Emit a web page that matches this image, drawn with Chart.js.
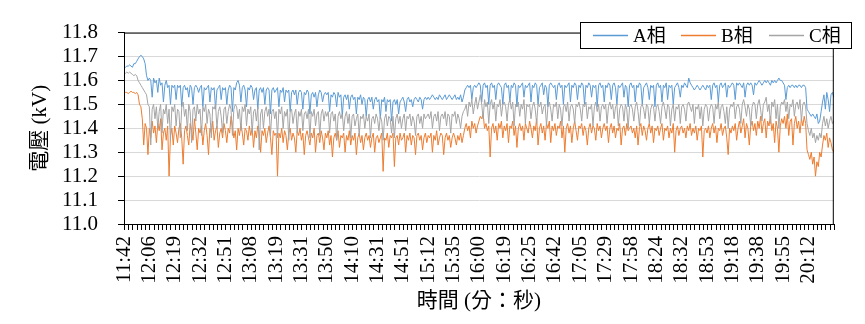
<!DOCTYPE html>
<html>
<head>
<meta charset="utf-8">
<script src="https://cdn.jsdelivr.net/npm/chart.js@4/dist/chart.umd.min.js"></script>
<style>
  html, body { margin: 0; padding: 0; background: #fff; }
  #wrap { width: 865px; height: 324px; }
</style>
</head>
<body>
<div id="wrap"><canvas id="chart" width="865" height="324"></canvas></div>
<script>
// tick labels shown every 18 samples
const tickLabels = ['11:42', '12:06', '12:19', '12:32', '12:51', '13:08', '13:19', '13:31', '13:50', '14:10',
  '14:31', '14:51', '15:12', '15:35', '16:00', '16:19', '16:25', '16:42', '17:05', '17:29',
  '17:58', '18:24', '18:32', '18:53', '19:18', '19:38', '19:55', '20:12'];
const samplesPerLabel = 18;
const samplesPerTick = 3;

// phase voltages (kV), one row per label interval
const phaseA = [
  11.66, 11.655, 11.66, 11.66, 11.665, 11.66, 11.655, 11.67, 11.67, 11.68, 11.69, 11.70, 11.705, 11.70, 11.69, 11.67, 11.62, 11.60,
  11.61, 11.60, 11.53, 11.61, 11.59, 11.60, 11.55, 11.61, 11.58, 11.59, 11.51, 11.58, 11.60, 11.57, 11.58, 11.50, 11.58, 11.57,
  11.58, 11.52, 11.58, 11.57, 11.58, 11.49, 11.57, 11.58, 11.56, 11.57, 11.53, 11.58, 11.57, 11.50, 11.57, 11.58, 11.57, 11.55,
  11.57, 11.58, 11.49, 11.57, 11.56, 11.57, 11.58, 11.51, 11.57, 11.56, 11.57, 11.48, 11.56, 11.57, 11.58, 11.52, 11.57, 11.56,
  11.57, 11.50, 11.56, 11.58, 11.57, 11.47, 11.57, 11.56, 11.59, 11.60, 11.58, 11.51, 11.57, 11.58, 11.56, 11.49, 11.57, 11.56,
  11.58, 11.57, 11.52, 11.56, 11.57, 11.48, 11.56, 11.57, 11.55, 11.57, 11.50, 11.56, 11.57, 11.56, 11.46, 11.56, 11.57, 11.55,
  11.56, 11.57, 11.49, 11.56, 11.55, 11.57, 11.51, 11.56, 11.55, 11.56, 11.47, 11.55, 11.56, 11.54, 11.56, 11.50, 11.55, 11.56,
  11.55, 11.48, 11.55, 11.54, 11.56, 11.55, 11.46, 11.54, 11.55, 11.53, 11.55, 11.49, 11.54, 11.56, 11.55, 11.51, 11.54, 11.55,
  11.54, 11.55, 11.47, 11.54, 11.53, 11.55, 11.54, 11.49, 11.55, 11.53, 11.54, 11.45, 11.53, 11.54, 11.52, 11.54, 11.48, 11.53,
  11.54, 11.52, 11.53, 11.46, 11.53, 11.52, 11.54, 11.50, 11.53, 11.52, 11.45, 11.52, 11.53, 11.51, 11.53, 11.48, 11.52, 11.53,
  11.51, 11.52, 11.44, 11.52, 11.51, 11.53, 11.47, 11.52, 11.51, 11.52, 11.43, 11.51, 11.52, 11.50, 11.52, 11.46, 11.51, 11.52,
  11.53, 11.51, 11.47, 11.52, 11.53, 11.51, 11.52, 11.49, 11.52, 11.53, 11.52, 11.51, 11.53, 11.52, 11.48, 11.52, 11.53, 11.52,
  11.53, 11.52, 11.53, 11.54, 11.53, 11.52, 11.53, 11.52, 11.54, 11.53, 11.52, 11.53, 11.54, 11.52, 11.53, 11.54, 11.53, 11.52,
  11.53, 11.54, 11.52, 11.53, 11.52, 11.54, 11.51, 11.53, 11.56, 11.57, 11.58, 11.57, 11.58, 11.52, 11.57, 11.58, 11.57, 11.58,
  11.59, 11.58, 11.51, 11.58, 11.59, 11.57, 11.58, 11.50, 11.58, 11.59, 11.57, 11.58, 11.52, 11.58, 11.59, 11.58, 11.57, 11.50,
  11.58, 11.59, 11.57, 11.58, 11.51, 11.58, 11.57, 11.59, 11.58, 11.49, 11.58, 11.57, 11.58, 11.59, 11.53, 11.58, 11.57, 11.58,
  11.59, 11.51, 11.58, 11.57, 11.59, 11.58, 11.50, 11.57, 11.58, 11.59, 11.54, 11.58, 11.57, 11.49, 11.58, 11.59, 11.58, 11.57,
  11.58, 11.52, 11.58, 11.59, 11.57, 11.58, 11.50, 11.58, 11.57, 11.58, 11.59, 11.51, 11.58, 11.57, 11.59, 11.58, 11.52, 11.58,
  11.57, 11.59, 11.58, 11.50, 11.58, 11.57, 11.59, 11.58, 11.53, 11.58, 11.57, 11.58, 11.49, 11.58, 11.59, 11.57, 11.58, 11.51,
  11.58, 11.57, 11.59, 11.58, 11.52, 11.58, 11.59, 11.57, 11.50, 11.58, 11.57, 11.58, 11.59, 11.53, 11.58, 11.57, 11.49, 11.58,
  11.59, 11.57, 11.58, 11.51, 11.58, 11.57, 11.59, 11.58, 11.50, 11.57, 11.58, 11.59, 11.57, 11.52, 11.58, 11.57, 11.58, 11.49,
  11.58, 11.59, 11.57, 11.58, 11.51, 11.58, 11.57, 11.59, 11.52, 11.58, 11.57, 11.58, 11.50, 11.57, 11.58, 11.59, 11.57, 11.53,
  11.58, 11.57, 11.59, 11.58, 11.57, 11.61, 11.59, 11.58, 11.57, 11.56, 11.57, 11.58, 11.57, 11.56, 11.57, 11.58, 11.57, 11.56,
  11.58, 11.57, 11.58, 11.52, 11.58, 11.59, 11.57, 11.58, 11.51, 11.58, 11.59, 11.57, 11.58, 11.59, 11.53, 11.58, 11.57, 11.58,
  11.59, 11.58, 11.52, 11.59, 11.58, 11.59, 11.58, 11.57, 11.59, 11.53, 11.58, 11.59, 11.58, 11.59, 11.58, 11.54, 11.59, 11.58,
  11.59, 11.60, 11.59, 11.58, 11.59, 11.60, 11.59, 11.60, 11.59, 11.58, 11.60, 11.59, 11.60, 11.59, 11.60, 11.61, 11.60, 11.60,
  11.59, 11.58, 11.52, 11.57, 11.58, 11.57, 11.58, 11.58, 11.57, 11.58, 11.57, 11.58, 11.58, 11.57, 11.58, 11.58, 11.57, 11.48,
  11.47, 11.46, 11.45, 11.46, 11.45, 11.44, 11.46, 11.42, 11.43, 11.47, 11.51, 11.54, 11.48, 11.55, 11.52, 11.47, 11.54, 11.55,
  11.53
];

const phaseB = [
  11.545, 11.55, 11.55, 11.545, 11.55, 11.555, 11.55, 11.55, 11.545, 11.55, 11.54, 11.50, 11.49, 11.44, 11.33, 11.42, 11.40, 11.29,
  11.40, 11.36, 11.43, 11.38, 11.41, 11.34, 11.42, 11.39, 11.44, 11.31, 11.38, 11.40, 11.35, 11.41, 11.20, 11.37, 11.40, 11.33,
  11.41, 11.38, 11.34, 11.40, 11.42, 11.36, 11.25, 11.39, 11.41, 11.37, 11.33, 11.42, 11.39, 11.35, 11.44, 11.38, 11.31, 11.40,
  11.38, 11.41, 11.33, 11.39, 11.42, 11.37, 11.29, 11.40, 11.38, 11.43, 11.35, 11.39, 11.41, 11.32, 11.38, 11.40, 11.36, 11.42,
  11.39, 11.34, 11.40, 11.38, 11.45, 11.41, 11.36, 11.39, 11.31, 11.40, 11.37, 11.42, 11.38, 11.33, 11.40, 11.39, 11.35, 11.41,
  11.37, 11.40, 11.32, 11.39, 11.36, 11.41, 11.38, 11.30, 11.39, 11.37, 11.40, 11.34, 11.38, 11.41, 11.36, 11.29, 11.39, 11.37,
  11.38, 11.20, 11.38, 11.36, 11.40, 11.34, 11.39, 11.37, 11.31, 11.38, 11.40, 11.35, 11.38, 11.36, 11.30, 11.39, 11.37, 11.40,
  11.35, 11.38, 11.29, 11.37, 11.39, 11.36, 11.33, 11.38, 11.36, 11.40, 11.30, 11.37, 11.38, 11.34, 11.39, 11.36, 11.31, 11.38,
  11.36, 11.39, 11.33, 11.37, 11.28, 11.36, 11.38, 11.35, 11.39, 11.32, 11.37, 11.36, 11.38, 11.30, 11.37, 11.35, 11.39, 11.33,
  11.37, 11.35, 11.38, 11.29, 11.36, 11.38, 11.34, 11.37, 11.31, 11.36, 11.38, 11.35, 11.37, 11.32, 11.36, 11.38, 11.30, 11.36,
  11.37, 11.34, 11.36, 11.38, 11.22, 11.36, 11.35, 11.38, 11.32, 11.37, 11.36, 11.38, 11.24, 11.36, 11.37, 11.33, 11.38, 11.35,
  11.36, 11.38, 11.30, 11.37, 11.35, 11.38, 11.33, 11.37, 11.36, 11.29, 11.37, 11.38, 11.35, 11.37, 11.31, 11.36, 11.38, 11.34,
  11.37, 11.36, 11.38, 11.30, 11.37, 11.35, 11.39, 11.33, 11.36, 11.38, 11.37, 11.29, 11.36, 11.38, 11.35, 11.37, 11.32, 11.36,
  11.38, 11.36, 11.33, 11.37, 11.35, 11.38, 11.34, 11.37, 11.40, 11.42, 11.39, 11.41, 11.36, 11.43, 11.40, 11.42, 11.38, 11.41,
  11.43, 11.45, 11.44, 11.46, 11.40, 11.42, 11.39, 11.41, 11.28, 11.40, 11.42, 11.38, 11.41, 11.35, 11.42, 11.40, 11.43, 11.36,
  11.41, 11.39, 11.42, 11.34, 11.41, 11.40, 11.43, 11.37, 11.41, 11.32, 11.40, 11.42, 11.39, 11.41, 11.35, 11.42, 11.40, 11.38,
  11.43, 11.40, 11.36, 11.41, 11.39, 11.44, 11.33, 11.40, 11.42, 11.38, 11.41, 11.35, 11.42, 11.40, 11.43, 11.34, 11.41, 11.39,
  11.42, 11.37, 11.41, 11.40, 11.43, 11.36, 11.41, 11.30, 11.40, 11.42, 11.38, 11.41, 11.34, 11.40, 11.43, 11.39, 11.35, 11.41,
  11.40, 11.42, 11.37, 11.41, 11.39, 11.33, 11.40, 11.42, 11.38, 11.41, 11.40, 11.35, 11.42, 11.39, 11.41, 11.36, 11.40, 11.42,
  11.39, 11.41, 11.34, 11.40, 11.42, 11.38, 11.41, 11.36, 11.40, 11.39, 11.42, 11.33, 11.40, 11.41, 11.37, 11.42, 11.39, 11.40,
  11.41, 11.38, 11.40, 11.36, 11.41, 11.33, 11.40, 11.42, 11.37, 11.41, 11.39, 11.35, 11.40, 11.42, 11.38, 11.41, 11.34, 11.40,
  11.39, 11.41, 11.37, 11.40, 11.42, 11.35, 11.40, 11.39, 11.41, 11.36, 11.40, 11.38, 11.42, 11.30, 11.39, 11.41, 11.37, 11.40,
  11.41, 11.38, 11.40, 11.36, 11.41, 11.39, 11.42, 11.37, 11.40, 11.38, 11.41, 11.35, 11.40, 11.39, 11.41, 11.28, 11.39, 11.40,
  11.38, 11.41, 11.36, 11.40, 11.42, 11.38, 11.41, 11.34, 11.40, 11.39, 11.42, 11.37, 11.40, 11.41, 11.36, 11.29, 11.40, 11.38,
  11.41, 11.39, 11.42, 11.35, 11.40, 11.43, 11.38, 11.41, 11.44, 11.36, 11.42, 11.40, 11.33, 11.41, 11.43, 11.39, 11.42, 11.37,
  11.43, 11.40, 11.45, 11.38, 11.42, 11.44, 11.36, 11.43, 11.41, 11.45, 11.39, 11.42, 11.34, 11.43, 11.40, 11.30, 11.41, 11.44,
  11.42, 11.45, 11.40, 11.46, 11.37, 11.43, 11.44, 11.33, 11.42, 11.45, 11.40, 11.43, 11.38, 11.44, 11.41, 11.45, 11.42, 11.31,
  11.29, 11.27, 11.30, 11.25, 11.28, 11.20, 11.26, 11.24, 11.30, 11.28, 11.33, 11.37, 11.35, 11.38, 11.32, 11.36, 11.34, 11.31,
  11.30
];

const phaseC = [
  11.635, 11.63, 11.635, 11.63, 11.635, 11.63, 11.625, 11.62, 11.625, 11.62, 11.60, 11.59, 11.58, 11.57, 11.56, 11.55, 11.54, 11.50,
  11.49, 11.33, 11.48, 11.50, 11.44, 11.49, 11.40, 11.47, 11.50, 11.38, 11.48, 11.46, 11.50, 11.42, 11.48, 11.35, 11.49, 11.47,
  11.50, 11.41, 11.48, 11.47, 11.36, 11.49, 11.51, 11.45, 11.48, 11.39, 11.50, 11.47, 11.34, 11.48, 11.49, 11.43, 11.50, 11.46,
  11.48, 11.37, 11.49, 11.47, 11.50, 11.42, 11.48, 11.46, 11.36, 11.49, 11.48, 11.50, 11.40, 11.47, 11.49, 11.45, 11.38, 11.48,
  11.49, 11.42, 11.47, 11.50, 11.48, 11.37, 11.48, 11.50, 11.49, 11.44, 11.48, 11.39, 11.49, 11.47, 11.50, 11.41, 11.48, 11.46,
  11.49, 11.38, 11.47, 11.48, 11.43, 11.49, 11.31, 11.46, 11.48, 11.40, 11.47, 11.49, 11.45, 11.48, 11.37, 11.47, 11.48, 11.44,
  11.47, 11.36, 11.48, 11.46, 11.49, 11.40, 11.47, 11.45, 11.48, 11.35, 11.47, 11.48, 11.42, 11.46, 11.48, 11.38, 11.47, 11.45,
  11.48, 11.39, 11.46, 11.47, 11.44, 11.48, 11.36, 11.47, 11.45, 11.48, 11.41, 11.46, 11.47, 11.37, 11.46, 11.48, 11.43, 11.47,
  11.45, 11.47, 11.38, 11.46, 11.47, 11.43, 11.46, 11.35, 11.45, 11.47, 11.44, 11.46, 11.39, 11.45, 11.47, 11.42, 11.46, 11.36,
  11.45, 11.46, 11.41, 11.44, 11.46, 11.37, 11.45, 11.44, 11.46, 11.40, 11.45, 11.43, 11.46, 11.36, 11.44, 11.45, 11.42, 11.46,
  11.44, 11.39, 11.45, 11.43, 11.35, 11.44, 11.46, 11.41, 11.45, 11.44, 11.38, 11.45, 11.36, 11.44, 11.46, 11.42, 11.45, 11.40,
  11.44, 11.46, 11.39, 11.45, 11.44, 11.46, 11.41, 11.45, 11.43, 11.37, 11.45, 11.46, 11.42, 11.45, 11.40, 11.46, 11.44, 11.45,
  11.46, 11.44, 11.47, 11.40, 11.45, 11.46, 11.43, 11.47, 11.39, 11.45, 11.46, 11.44, 11.47, 11.41, 11.46, 11.45, 11.38, 11.46,
  11.45, 11.47, 11.42, 11.46, 11.44, 11.40, 11.45, 11.47, 11.48, 11.50, 11.45, 11.51, 11.49, 11.52, 11.46, 11.50, 11.53, 11.48,
  11.51, 11.54, 11.50, 11.44, 11.52, 11.49, 11.51, 11.42, 11.50, 11.52, 11.48, 11.51, 11.43, 11.50, 11.49, 11.52, 11.45, 11.50,
  11.51, 11.49, 11.43, 11.50, 11.52, 11.48, 11.51, 11.41, 11.50, 11.49, 11.51, 11.45, 11.50, 11.48, 11.52, 11.42, 11.50, 11.49,
  11.50, 11.44, 11.49, 11.51, 11.48, 11.42, 11.50, 11.49, 11.51, 11.46, 11.49, 11.50, 11.41, 11.49, 11.51, 11.48, 11.43, 11.50,
  11.49, 11.51, 11.44, 11.50, 11.48, 11.41, 11.49, 11.50, 11.47, 11.51, 11.43, 11.49, 11.50, 11.48, 11.42, 11.50, 11.49, 11.51,
  11.48, 11.43, 11.50, 11.49, 11.51, 11.44, 11.49, 11.48, 11.50, 11.41, 11.49, 11.51, 11.47, 11.50, 11.43, 11.49, 11.50, 11.48,
  11.50, 11.42, 11.49, 11.51, 11.48, 11.50, 11.44, 11.49, 11.50, 11.41, 11.48, 11.50, 11.49, 11.43, 11.50, 11.48, 11.40, 11.49,
  11.50, 11.48, 11.43, 11.49, 11.51, 11.47, 11.41, 11.49, 11.50, 11.48, 11.44, 11.50, 11.49, 11.42, 11.48, 11.50, 11.49, 11.43,
  11.49, 11.50, 11.47, 11.42, 11.49, 11.51, 11.48, 11.44, 11.50, 11.49, 11.41, 11.48, 11.50, 11.43, 11.49, 11.48, 11.50, 11.42,
  11.49, 11.50, 11.48, 11.43, 11.50, 11.51, 11.49, 11.47, 11.50, 11.42, 11.49, 11.48, 11.50, 11.44, 11.49, 11.41, 11.48, 11.50,
  11.49, 11.43, 11.48, 11.50, 11.49, 11.42, 11.50, 11.48, 11.51, 11.44, 11.49, 11.50, 11.47, 11.42, 11.49, 11.40, 11.48, 11.50,
  11.49, 11.51, 11.44, 11.49, 11.50, 11.48, 11.42, 11.50, 11.52, 11.49, 11.45, 11.50, 11.48, 11.41, 11.49, 11.51, 11.50, 11.44,
  11.50, 11.52, 11.48, 11.43, 11.50, 11.51, 11.53, 11.47, 11.50, 11.42, 11.51, 11.49, 11.52, 11.44, 11.50, 11.40, 11.49, 11.51,
  11.50, 11.52, 11.47, 11.51, 11.44, 11.50, 11.49, 11.52, 11.45, 11.50, 11.51, 11.48, 11.52, 11.43, 11.50, 11.51, 11.49, 11.42,
  11.39, 11.37, 11.40, 11.36, 11.38, 11.34, 11.37, 11.35, 11.38, 11.36, 11.42, 11.45, 11.41, 11.44, 11.40, 11.43, 11.45, 11.42,
  11.43
];

const seriesNames = ['A相', 'B相', 'C相'];
const seriesColors = ['#5b9bd5', '#ed7d31', '#a5a5a5'];

const serifFont = "'Liberation Serif', 'Times New Roman', 'Noto Sans CJK TC', serif";

// sample index used as category
const sampleIndex = phaseA.map((_, i) => i);

// frame around the plot area plus the small x tick marks
const plotFramePlugin = {
  id: 'plotFrame',
  afterDraw: (chart) => {
    const {ctx, chartArea} = chart;
    const xScale = chart.scales.x;
    ctx.save();
    ctx.strokeStyle = '#000';
    ctx.lineWidth = 1;
    ctx.strokeRect(chartArea.left + 0.5, chartArea.top + 0.5,
      chartArea.right - chartArea.left - 1, chartArea.bottom - chartArea.top);
    ctx.beginPath();
    for (let i = 0; i < sampleIndex.length; i += samplesPerTick) {
      const x = Math.round(xScale.getPixelForValue(i)) + 0.5;
      ctx.moveTo(x, chartArea.bottom);
      ctx.lineTo(x, chartArea.bottom + 6);
    }
    ctx.stroke();
    ctx.restore();
  }
};

// boxed legend in the top right corner of the plot
const boxLegendPlugin = {
  id: 'boxLegend',
  afterDraw: (chart) => {
    const ctx = chart.ctx;
    const box = {x: 580.5, y: 22.5, w: 271, h: 26};
    const lineStarts = [593, 681, 769];
    ctx.save();
    ctx.fillStyle = '#fff';
    ctx.fillRect(box.x, box.y, box.w, box.h);
    ctx.strokeStyle = '#000';
    ctx.lineWidth = 1;
    ctx.strokeRect(box.x, box.y, box.w, box.h);
    ctx.font = '19px ' + serifFont;
    ctx.textBaseline = 'middle';
    seriesNames.forEach((name, i) => {
      const x0 = lineStarts[i];
      ctx.strokeStyle = seriesColors[i];
      ctx.lineWidth = 1.5;
      ctx.beginPath();
      ctx.moveTo(x0, 35.5);
      ctx.lineTo(x0 + 35, 35.5);
      ctx.stroke();
      ctx.fillStyle = '#000';
      ctx.fillText(name, x0 + 40, 37);
    });
    ctx.restore();
  }
};

const seriesData = [phaseA, phaseB, phaseC];

new Chart(document.getElementById('chart'), {
  type: 'line',
  data: {
    labels: sampleIndex,
    datasets: seriesData.map((values, i) => ({
      label: seriesNames[i],
      data: values,
      borderColor: seriesColors[i],
      backgroundColor: seriesColors[i],
      borderWidth: 1,
      pointRadius: 0,
      tension: 0,
      order: 2 - i
    }))
  },
  options: {
    responsive: false,
    animation: false,
    devicePixelRatio: 1,
    layout: {
      padding: {left: 0, right: 11, top: 22, bottom: 0}
    },
    plugins: {
      legend: {display: false},
      tooltip: {enabled: false}
    },
    scales: {
      x: {
        type: 'category',
        offset: false,
        afterFit: (scale) => { scale.height = 100; },
        grid: {
          drawOnChartArea: false,
          drawTicks: true,
          tickLength: 6,
          tickColor: 'rgba(0,0,0,0)'
        },
        border: {display: true, color: '#000', width: 1},
        ticks: {
          autoSkip: false,
          maxRotation: 90,
          minRotation: 90,
          padding: 6,
          color: '#000',
          font: {family: serifFont, size: 21},
          callback: (value, index) => {
            if (index % samplesPerLabel !== 0) return '';
            return tickLabels[index / samplesPerLabel] || '';
          }
        },
        title: {
          display: true,
          text: '時間 (分：秒)',
          color: '#000',
          font: {family: serifFont, size: 21},
          padding: {top: 0, bottom: 10}
        }
      },
      y: {
        min: 11.0,
        max: 11.8,
        afterFit: (scale) => { scale.width = 124; },
        grid: {
          color: '#d9d9d9',
          tickColor: '#000',
          tickLength: 6
        },
        border: {display: true, color: '#000', width: 1},
        ticks: {
          stepSize: 0.1,
          autoSkip: false,
          padding: 20,
          color: '#000',
          font: {family: serifFont, size: 21},
          callback: (value) => value.toFixed(1)
        },
        title: {
          display: true,
          text: '電壓 (kV)',
          color: '#000',
          font: {family: serifFont, size: 21},
          padding: {top: 28, bottom: 0}
        }
      }
    }
  },
  plugins: [plotFramePlugin, boxLegendPlugin]
});
</script>
</body>
</html>
